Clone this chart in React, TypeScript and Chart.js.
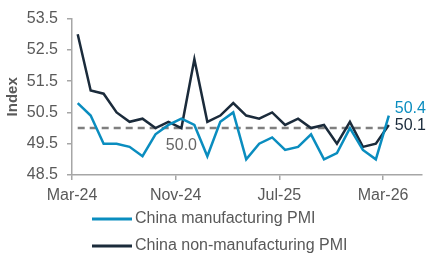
import React, { useEffect, useRef } from "react";
import { Chart, registerables } from "chart.js";

Chart.register(...registerables);

const months = [
  "Mar-24","Apr-24","May-24","Jun-24","Jul-24","Aug-24","Sep-24","Oct-24","Nov-24","Dec-24",
  "Jan-25","Feb-25","Mar-25","Apr-25","May-25","Jun-25","Jul-25","Aug-25","Sep-25","Oct-25",
  "Nov-25","Dec-25","Jan-26","Feb-26","Mar-26",
];
const manufacturing = [
  50.8, 50.4, 49.5, 49.5, 49.4, 49.1, 49.8, 50.1, 50.3, 50.1,
  49.1, 50.2, 50.5, 49.0, 49.5, 49.7, 49.3, 49.4, 49.8, 49.0,
  49.2, 50.0, 49.3, 49.0, 50.4,
];
const nonManufacturing = [
  53.0, 51.2, 51.1, 50.5, 50.2, 50.3, 50.0, 50.2, 50.0, 52.2,
  50.2, 50.4, 50.8, 50.4, 50.3, 50.5, 50.1, 50.3, 50.0, 50.1,
  49.5, 50.2, 49.4, 49.5, 50.1,
];
const threshold = months.map(() => 50.0);
const tickLabels = ["Mar-24", "Nov-24", "Jul-25", "Mar-26"];
const tickPositions = [0, 8, 16, 24];
const seriesNames = ["China manufacturing PMI", "China non-manufacturing PMI"];

const BLUE = "#0A8DBF";
const DARK = "#1B2B3B";
const GREY = "#7F7F7F";
const TEXT = "#595959";
const FONT = "'Liberation Sans', Arial, sans-serif";
const FS = 16;
const OFF = -0.44;

export default function App() {
  const ref = useRef<HTMLCanvasElement>(null);
  useEffect(() => {
    document.body.style.margin = "0";
    const ctx = ref.current!.getContext("2d")!;
    const labelPlugin = {
      id: "customLabels",
      afterDatasetsDraw(chart: any) {
        const c = chart.ctx;
        c.save();
        c.font = `${FS}px ${FONT}`;
        c.textBaseline = "middle";
        c.textAlign = "left";
        const m0 = chart.getDatasetMeta(0).data[manufacturing.length - 1];
        const m1 = chart.getDatasetMeta(1).data[nonManufacturing.length - 1];
        c.fillStyle = BLUE;
        c.fillText(manufacturing[manufacturing.length - 1].toFixed(1), m0.x + 6, m0.y - 7);
        c.fillStyle = DARK;
        c.fillText(nonManufacturing[nonManufacturing.length - 1].toFixed(1), m1.x + 6, m1.y + 1);
        const t = chart.getDatasetMeta(2).data[8];
        c.fillStyle = "#666666";
        c.textAlign = "center";
        c.fillText(threshold[8].toFixed(1), t.x, t.y + 18);
        // legend
        c.textAlign = "left";
        const items = [
          { name: seriesNames[0], color: BLUE, y: 219 },
          { name: seriesNames[1], color: DARK, y: 246 },
        ];
        for (const it of items) {
          c.strokeStyle = it.color;
          c.lineWidth = 3;
          c.beginPath();
          c.moveTo(92, it.y);
          c.lineTo(132, it.y);
          c.stroke();
          c.fillStyle = TEXT;
          c.fillText(it.name, 135, it.y);
        }
        c.restore();
      },
    };
    const toPts = (arr: number[]) => arr.map((v, i) => ({ x: i, y: v }));
    const chart = new Chart(ctx, {
      type: "line",
      data: {
        datasets: [
          { label: seriesNames[0], data: toPts(manufacturing), borderColor: BLUE, borderWidth: 2.5, pointRadius: 0, tension: 0, order: 1 },
          { label: seriesNames[1], data: toPts(nonManufacturing), borderColor: DARK, borderWidth: 2.5, pointRadius: 0, tension: 0, order: 2 },
          { label: "50", data: toPts(threshold), borderColor: GREY, borderWidth: 2.5, borderDash: [7, 5], pointRadius: 0, order: 3 },
        ],
      },
      options: {
        responsive: false,
        animation: false,
        layout: { padding: { left: 0, right: 10, top: 15, bottom: 0 } },
        plugins: { legend: { display: false }, tooltip: { enabled: false } },
        scales: {
          x: {
            type: "linear",
            min: OFF,
            max: OFF + 27,
            afterBuildTicks: (s: any) => {
              s.ticks = tickPositions.map((p) => ({ value: p + OFF }));
            },
            afterFit: (s: any) => { s.height = 85; },
            ticks: {
              autoSkip: false,
              maxRotation: 0,
              padding: 6,
              color: TEXT,
              font: { family: FONT, size: FS },
              callback: (_v: any, i: number) => tickLabels[i],
            },
            grid: { drawOnChartArea: false, drawTicks: true, tickLength: 5, color: "#A6A6A6", lineWidth: 1.5 },
            border: { display: true, color: "#A6A6A6", width: 1.5 },
          },
          y: {
            min: 48.5,
            max: 53.5,
            afterBuildTicks: (s: any) => {
              const t = [];
              for (let v = 48.5; v <= 53.5 + 1e-9; v += 1) t.push({ value: v });
              s.ticks = t;
            },
            afterFit: (s: any) => { s.width = 72; },
            ticks: {
              padding: 9,
              color: TEXT,
              font: { family: FONT, size: FS },
              callback: (v: any) => Number(v).toFixed(1),
            },
            title: { display: true, text: "Index", color: TEXT, font: { family: FONT, size: 15, weight: "bold" }, padding: { top: 4, bottom: 0 } },
            grid: { drawOnChartArea: false, drawTicks: true, tickLength: 5, color: "#A6A6A6", lineWidth: 1.5 },
            border: { display: true, color: "#A6A6A6", width: 1.5 },
          },
        },
      },
      plugins: [labelPlugin],
    });
    return () => chart.destroy();
  }, []);
  return (
    <div style={{ width: 432, height: 260 }}>
      <canvas ref={ref} width={432} height={260} style={{ width: 432, height: 260, display: "block" }} />
    </div>
  );
}
